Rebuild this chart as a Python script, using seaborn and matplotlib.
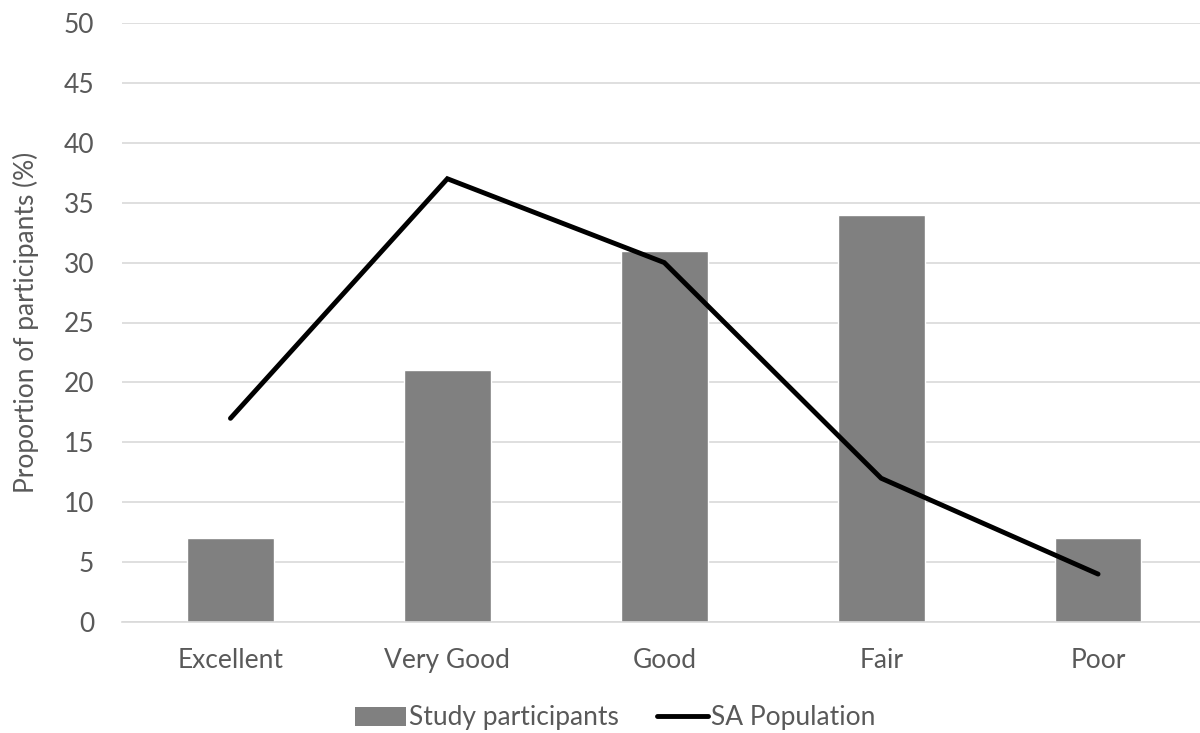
import matplotlib
matplotlib.use("Agg")
import matplotlib.pyplot as plt
import seaborn as sns
import pandas as pd
from matplotlib.patches import Patch
from matplotlib.lines import Line2D

categories = ["Excellent", "Very Good", "Good", "Fair", "Poor"]
study_participants = [7, 21, 31, 34, 7]
sa_population = [17, 37, 30, 12, 4]
y_ticks = list(range(0, 51, 5))

sns.set_theme(style="white")
plt.rcParams["font.family"] = ["Lato", "DejaVu Sans"]

df = pd.DataFrame({"category": categories,
                   "study": study_participants,
                   "sa": sa_population})

fig = plt.figure(figsize=(12, 7.33), dpi=100)
ax = fig.add_axes([122 / 1200, (733 - 622) / 733, (1200 - 122) / 1200, (622 - 23) / 733])

sns.barplot(data=df, x="category", y="study", color="#808080", width=0.4,
            saturation=1, ax=ax, zorder=2)
ax.plot(range(len(categories)), df["sa"], color="black", linewidth=3.5,
        solid_joinstyle="miter", zorder=3)

ax.set_ylim(0, 50)
ax.set_xlim(-0.5, 4.47)
ax.set_yticks(y_ticks)
ax.yaxis.grid(True, color="#d9d9d9", linewidth=1.2, zorder=0)
ax.set_axisbelow(True)
for s in ["top", "right", "left"]:
    ax.spines[s].set_visible(False)
ax.spines["bottom"].set_color("#d9d9d9")
ax.spines["bottom"].set_linewidth(1.2)
ax.tick_params(axis="both", length=0, labelsize=19, colors="#595959")
ax.tick_params(axis="y", pad=20)
ax.tick_params(axis="x", pad=19)
ax.set_xlabel("")
ax.set_ylabel("Proportion of participants (%)", fontsize=19, color="#595959", labelpad=18)

handles = [Patch(facecolor="#808080", edgecolor="none"),
           Line2D([0], [0], color="black", linewidth=3.5)]
fig.legend(handles, ["Study participants", "SA Population"], loc="center",
           bbox_to_anchor=(615 / 1200, 1 - 718 / 733), ncol=2, frameon=False,
           fontsize=19, labelcolor="#595959", handlelength=1.95, handletextpad=0.1,
           columnspacing=1.45)

fig.savefig("out.png", dpi=100)
